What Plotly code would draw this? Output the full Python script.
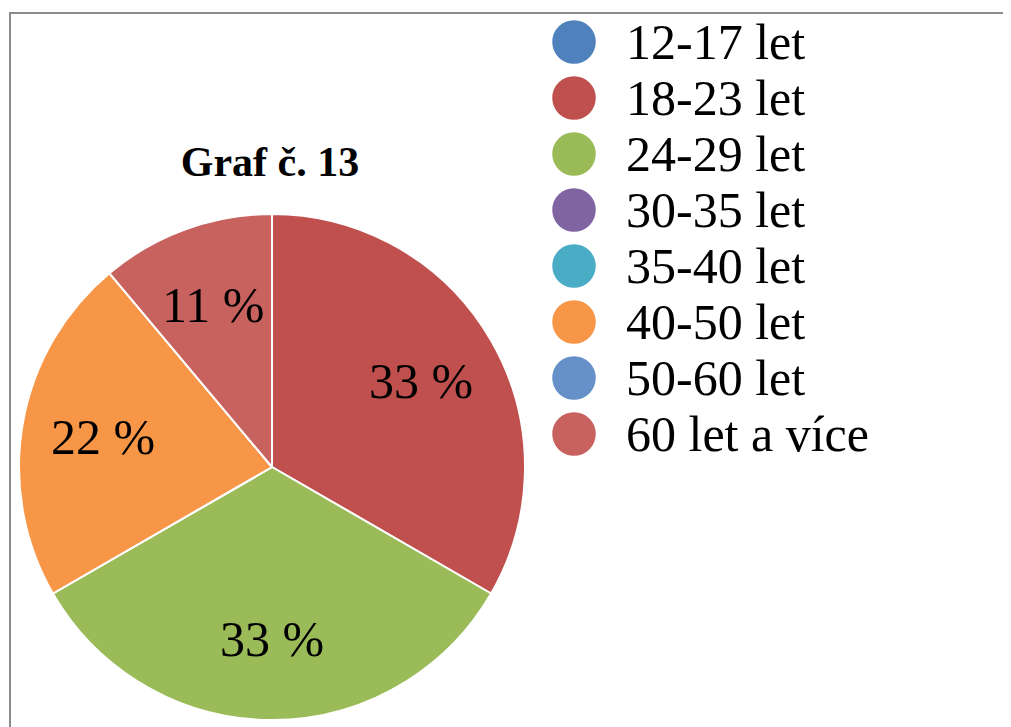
import math
import plotly.graph_objects as go

# Data
categories = ["12-17 let", "18-23 let", "24-29 let", "30-35 let", "35-40 let",
              "40-50 let", "50-60 let", "60 let a více"]
counts = [0, 3, 3, 0, 0, 2, 0, 1]
colors = ["#4F81BD", "#C0504D", "#9BBB59", "#8064A2", "#4BACC6",
          "#F79646", "#6590C8", "#C8625F"]
title_text = "Graf č. 13"

total = sum(counts)
FONT = "Liberation Serif"
W, H = 1011, 727
OFF = 8  # page body margin in the browser


def fx(px):
    return (px - OFF) / W


def fy(py):
    return 1 - (py - OFF) / H


fig = go.Figure()

# Pie: center (272, 467), radius ~253 (screen pixels)
cx, cy, r = 272, 467, 253
pie_dom_x = [fx(cx - r), fx(cx + r)]
pie_dom_y = [fy(cy + r), fy(cy - r)]
fig.add_trace(go.Pie(
    labels=categories,
    values=counts,
    textinfo="none",
    marker=dict(colors=colors, line=dict(color="white", width=2)),
    sort=False,
    direction="clockwise",
    rotation=0,
    showlegend=False,
    hoverinfo="label+percent",
    domain=dict(x=pie_dom_x, y=pie_dom_y),
))

# Percentage labels at slice mid-angles, on an axis aligned with the pie
annotations = []
cum = 0
for v in counts:
    if v > 0:
        mid = 2 * math.pi * (cum + v / 2) / total
        annotations.append(dict(
            x=0.68 * math.sin(mid), y=0.68 * math.cos(mid),
            xref="x2", yref="y2", text=f"{round(100 * v / total)} %",
            showarrow=False, xanchor="center", yanchor="middle",
            font=dict(family=FONT, size=50, color="black")))
    cum += v

# Manual legend with circular markers, drawn on its own axes
fig.add_trace(go.Scatter(
    x=[0] * len(categories), y=categories, mode="markers",
    marker=dict(symbol="circle", size=45, color=colors,
                line=dict(color="white", width=1.5)),
    xaxis="x", yaxis="y", showlegend=False, hoverinfo="skip", cliponaxis=False,
))
fig.add_trace(go.Scatter(
    x=[52] * len(categories), y=categories, mode="text", text=categories,
    textposition="middle right",
    textfont=dict(family=FONT, size=50, color="black"),
    xaxis="x", yaxis="y3", showlegend=False, hoverinfo="skip", cliponaxis=False,
))

row0, step = 42 - OFF, 56
text_row0 = row0 + 4
leg_cx = 574 - OFF
dom0 = 0.5 * W
fig.update_layout(
    width=W, height=H,
    margin=dict(l=0, r=0, t=0, b=0),
    paper_bgcolor="white", plot_bgcolor="rgba(0,0,0,0)",
    title=dict(text=f"<b>{title_text}</b>", x=fx(270), y=fy(161),
               xanchor="center", yanchor="middle",
               font=dict(family=FONT, size=42, color="black")),
    xaxis=dict(domain=[0.5, 1.0], range=[dom0 - leg_cx, W - leg_cx],
               visible=False, fixedrange=True),
    yaxis=dict(domain=[0, 1], type="category", categoryorder="array",
               categoryarray=categories,
               range=[(H - row0) / step, -row0 / step],
               visible=False, fixedrange=True),
    yaxis3=dict(domain=[0, 1], type="category", categoryorder="array",
                categoryarray=categories, overlaying="y", anchor="x",
                range=[(H - text_row0) / step, -text_row0 / step],
                visible=False, fixedrange=True),
    xaxis2=dict(domain=pie_dom_x, range=[-1, 1], visible=False, fixedrange=True,
                anchor="y2"),
    yaxis2=dict(domain=pie_dom_y, range=[-1, 1], visible=False, fixedrange=True,
                anchor="x2"),
    annotations=annotations,
    shapes=[dict(type="rect", xref="paper", yref="paper",
                 x0=fx(10), x1=1.05, y0=-0.05, y1=fy(13),
                 line=dict(color="#8C8C8C", width=2), fillcolor="rgba(0,0,0,0)",
                 layer="below")],
)

fig.write_html("out.html")
